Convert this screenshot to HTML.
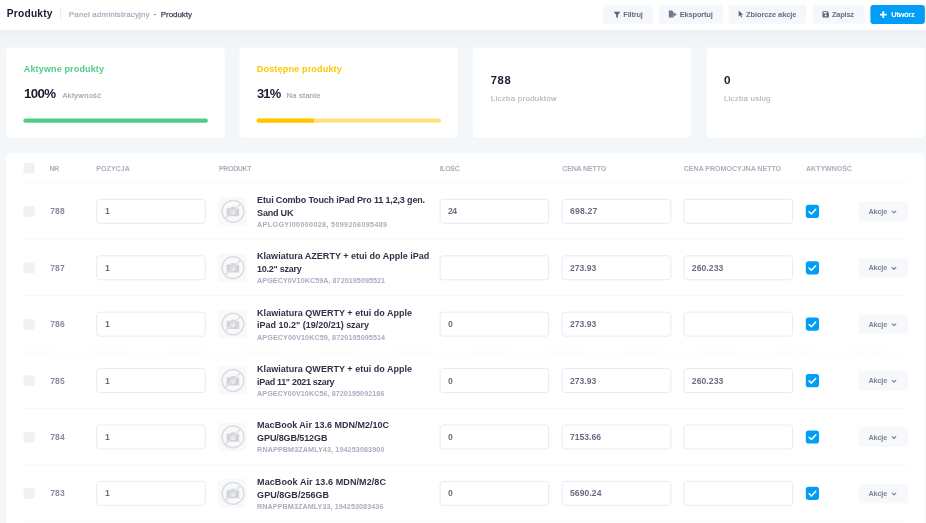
<!DOCTYPE html>
<html lang="pl"><head><meta charset="utf-8"><title>Produkty</title><style>
*{box-sizing:border-box;margin:0;padding:0}
html,body{width:926px;height:523px;overflow:hidden}
body{background:#f4f7fa;font-family:"Liberation Sans",sans-serif;color:#181c32;position:relative}
.t{position:absolute;white-space:pre;line-height:1;display:block}
svg.bg{position:absolute;left:0;top:0;display:block}
.card{fill:#fff}
.cb{fill:#eff2f5}
.dl{stroke:#eef0f4;stroke-width:1;stroke-dasharray:1.900 1.900;fill:none}
.inp{fill:#fff;stroke:#e6e8f0;stroke-width:.9}
.btn{fill:#f5f8fa}
.ic{fill:#5e6278}

</style></head><body>
<svg class="bg" width="926" height="523" viewBox="0 0 926 523">
<defs><linearGradient id="sh" x1="0" y1="0" x2="0" y2="1"><stop offset="0" stop-color="#523f69" stop-opacity=".045"/><stop offset=".35" stop-color="#523f69" stop-opacity=".022"/><stop offset="1" stop-color="#523f69" stop-opacity="0"/></linearGradient></defs>
<rect x="0" y="29.700" width="926" height="20" fill="url(#sh)"/>
<rect x="0" y="0" width="926" height="29.800" fill="#fff"/>
<rect x="60.100" y="8.300" width="1" height="11.300" fill="#eaecf2"/>
<rect class="btn" x="603" y="4.800" width="50" height="19" rx="3"/>
<path class="ic" transform="translate(613.400 11.300) scale(.9)" d="M.3.600h7.400L4.900 4v3.600L3.100 6.300V4z"/>
<rect class="btn" x="658.800" y="4.800" width="64.200" height="19" rx="3"/>
<g fill="#74788f" transform="translate(668.400 10.200) scale(.944)"><path d="M.4.300h3.400l1.700 1.700v5.700H.400z"/><path d="M6 2.400L8.800 4.500 6 6.600z"/><rect x="3.400" y="3.900" width="3" height="1.200"/></g>
<rect class="btn" x="728.400" y="4.800" width="77.900" height="19" rx="3"/>
<path class="ic" transform="translate(738.200 10.400) scale(.9)" d="M.5.200v6.600l1.700-1.500 1.100 2.500 1.100-.5-1.100-2.400h2.200z"/>
<rect class="btn" x="813" y="4.800" width="51.400" height="19" rx="3"/>
<g transform="translate(822.200 10.900) scale(.8625)"><path class="ic" d="M.3 1.300c0-.6.400-1 1-1h4.600l1.800 1.800v4.600c0 .6-.4 1-1 1H1.300c-.6 0-1-.4-1-1z"/><rect x="1.600" y="1.400" width="3.800" height="1.700" fill="#f5f8fa"/><circle cx="4" cy="5.300" r="1.200" fill="#f5f8fa"/></g>
<rect x="870.400" y="4.900" width="54.500" height="19.100" rx="3" fill="#009ef7"/>
<path transform="translate(879.700 11) scale(.9)" d="M4 .3v7.400M.3 4h7.400" stroke="#fff" stroke-width="2" fill="none"/>
<rect class="card" x="6.400" y="47.800" width="218.300" height="89.800" rx="4"/><rect class="card" x="239.500" y="47.800" width="218.300" height="89.800" rx="4"/><rect class="card" x="472.700" y="47.800" width="218.300" height="89.800" rx="4"/><rect class="card" x="706.500" y="47.800" width="218.200" height="89.800" rx="4"/>
<rect x="23.300" y="118.600" width="184.600" height="4.200" rx="2.100" fill="#50cd89"/>
<rect x="256.600" y="118.600" width="184.600" height="4.200" rx="2.100" fill="#ffe27c"/>
<path d="M258.700 118.600h55.200v4.200h-55.200a2.100 2.100 0 0 1 0-4.200z" fill="#ffc700"/>
<rect class="card" x="6.400" y="152.800" width="918.200" height="380" rx="5"/>
<rect class="cb" x="23.500" y="162.700" width="11.200" height="10.800" rx="2.600"/>

<path class="dl" d="M23.5 182.80H908.3"/>
<rect class="cb" x="23.5" y="206.10" width="11.2" height="10.8" rx="2.600"/>
<rect class="inp" x="96.70" y="199.40" width="108.600" height="24" rx="2.900"/>
<rect class="inp" x="440.10" y="199.40" width="108.600" height="24" rx="2.900"/>
<rect class="inp" x="562.20" y="199.40" width="108.600" height="24" rx="2.900"/>
<rect class="inp" x="684.00" y="199.40" width="108.600" height="24" rx="2.900"/>
<g transform="translate(218.2 197.10)"><rect width="28.400" height="28.300" rx="3" fill="#f8f9fb"/><circle cx="14.800" cy="14.200" r="10.900" fill="none" stroke="#dcdde2" stroke-width="1.500"/><path d="M8.400 11.500h1v-.9h1.800v.9h1l1-1.900h3.600l1 1.900h3.200v7.600H8.400z" fill="#d3d4da"/><circle cx="14.700" cy="15.200" r="2.400" fill="#eceef2"/><path d="M6.900 21.900L22.300 6.500" stroke="#f8f9fb" stroke-width="2" opacity=".5"/><path d="M6.900 21.900L22.300 6.500" stroke="#d7d8de" stroke-width="1.200"/></g>
<g transform="translate(805.8 204.80)"><rect width="13.200" height="13.200" rx="2.800" fill="#009ef7"/><path d="M3.300 6.900l2.300 2.200 4.300-4.600" fill="none" stroke="#fff" stroke-width="1.500" stroke-linecap="round" stroke-linejoin="round"/></g>
<rect x="858.8" y="201.70" width="49.200" height="19.500" rx="3" fill="#f6f8fb"/>
<path d="M892.2 211.10l1.800 1.800 1.800-1.800" fill="none" stroke="#7e8299" stroke-width="1.200" stroke-linecap="round" stroke-linejoin="round"/>
<path class="dl" d="M23.5 239.20H908.3"/>
<rect class="cb" x="23.5" y="262.50" width="11.2" height="10.8" rx="2.600"/>
<rect class="inp" x="96.70" y="255.80" width="108.600" height="24" rx="2.900"/>
<rect class="inp" x="440.10" y="255.80" width="108.600" height="24" rx="2.900"/>
<rect class="inp" x="562.20" y="255.80" width="108.600" height="24" rx="2.900"/>
<rect class="inp" x="684.00" y="255.80" width="108.600" height="24" rx="2.900"/>
<g transform="translate(218.2 253.50)"><rect width="28.400" height="28.300" rx="3" fill="#f8f9fb"/><circle cx="14.800" cy="14.200" r="10.900" fill="none" stroke="#dcdde2" stroke-width="1.500"/><path d="M8.400 11.500h1v-.9h1.800v.9h1l1-1.900h3.600l1 1.900h3.200v7.600H8.400z" fill="#d3d4da"/><circle cx="14.700" cy="15.200" r="2.400" fill="#eceef2"/><path d="M6.900 21.900L22.300 6.500" stroke="#f8f9fb" stroke-width="2" opacity=".5"/><path d="M6.900 21.900L22.300 6.500" stroke="#d7d8de" stroke-width="1.200"/></g>
<g transform="translate(805.8 261.20)"><rect width="13.200" height="13.200" rx="2.800" fill="#009ef7"/><path d="M3.300 6.900l2.300 2.200 4.300-4.600" fill="none" stroke="#fff" stroke-width="1.500" stroke-linecap="round" stroke-linejoin="round"/></g>
<rect x="858.8" y="258.10" width="49.200" height="19.500" rx="3" fill="#f6f8fb"/>
<path d="M892.2 267.50l1.800 1.800 1.800-1.800" fill="none" stroke="#7e8299" stroke-width="1.200" stroke-linecap="round" stroke-linejoin="round"/>
<path class="dl" d="M23.5 295.60H908.3"/>
<rect class="cb" x="23.5" y="318.90" width="11.2" height="10.8" rx="2.600"/>
<rect class="inp" x="96.70" y="312.20" width="108.600" height="24" rx="2.900"/>
<rect class="inp" x="440.10" y="312.20" width="108.600" height="24" rx="2.900"/>
<rect class="inp" x="562.20" y="312.20" width="108.600" height="24" rx="2.900"/>
<rect class="inp" x="684.00" y="312.20" width="108.600" height="24" rx="2.900"/>
<g transform="translate(218.2 309.90)"><rect width="28.400" height="28.300" rx="3" fill="#f8f9fb"/><circle cx="14.800" cy="14.200" r="10.900" fill="none" stroke="#dcdde2" stroke-width="1.500"/><path d="M8.400 11.500h1v-.9h1.800v.9h1l1-1.900h3.600l1 1.900h3.200v7.600H8.400z" fill="#d3d4da"/><circle cx="14.700" cy="15.200" r="2.400" fill="#eceef2"/><path d="M6.900 21.900L22.300 6.500" stroke="#f8f9fb" stroke-width="2" opacity=".5"/><path d="M6.900 21.900L22.300 6.500" stroke="#d7d8de" stroke-width="1.200"/></g>
<g transform="translate(805.8 317.60)"><rect width="13.200" height="13.200" rx="2.800" fill="#009ef7"/><path d="M3.300 6.900l2.300 2.200 4.300-4.600" fill="none" stroke="#fff" stroke-width="1.500" stroke-linecap="round" stroke-linejoin="round"/></g>
<rect x="858.8" y="314.50" width="49.200" height="19.500" rx="3" fill="#f6f8fb"/>
<path d="M892.2 323.90l1.800 1.800 1.800-1.800" fill="none" stroke="#7e8299" stroke-width="1.200" stroke-linecap="round" stroke-linejoin="round"/>
<path class="dl" d="M23.5 352.00H908.3"/>
<rect class="cb" x="23.5" y="375.30" width="11.2" height="10.8" rx="2.600"/>
<rect class="inp" x="96.70" y="368.60" width="108.600" height="24" rx="2.900"/>
<rect class="inp" x="440.10" y="368.60" width="108.600" height="24" rx="2.900"/>
<rect class="inp" x="562.20" y="368.60" width="108.600" height="24" rx="2.900"/>
<rect class="inp" x="684.00" y="368.60" width="108.600" height="24" rx="2.900"/>
<g transform="translate(218.2 366.30)"><rect width="28.400" height="28.300" rx="3" fill="#f8f9fb"/><circle cx="14.800" cy="14.200" r="10.900" fill="none" stroke="#dcdde2" stroke-width="1.500"/><path d="M8.400 11.500h1v-.9h1.800v.9h1l1-1.900h3.600l1 1.900h3.200v7.600H8.400z" fill="#d3d4da"/><circle cx="14.700" cy="15.200" r="2.400" fill="#eceef2"/><path d="M6.900 21.900L22.300 6.500" stroke="#f8f9fb" stroke-width="2" opacity=".5"/><path d="M6.900 21.900L22.300 6.500" stroke="#d7d8de" stroke-width="1.200"/></g>
<g transform="translate(805.8 374.00)"><rect width="13.200" height="13.200" rx="2.800" fill="#009ef7"/><path d="M3.300 6.900l2.300 2.200 4.300-4.600" fill="none" stroke="#fff" stroke-width="1.500" stroke-linecap="round" stroke-linejoin="round"/></g>
<rect x="858.8" y="370.90" width="49.200" height="19.500" rx="3" fill="#f6f8fb"/>
<path d="M892.2 380.30l1.800 1.800 1.800-1.800" fill="none" stroke="#7e8299" stroke-width="1.200" stroke-linecap="round" stroke-linejoin="round"/>
<path class="dl" d="M23.5 408.40H908.3"/>
<rect class="cb" x="23.5" y="431.70" width="11.2" height="10.8" rx="2.600"/>
<rect class="inp" x="96.70" y="425.00" width="108.600" height="24" rx="2.900"/>
<rect class="inp" x="440.10" y="425.00" width="108.600" height="24" rx="2.900"/>
<rect class="inp" x="562.20" y="425.00" width="108.600" height="24" rx="2.900"/>
<rect class="inp" x="684.00" y="425.00" width="108.600" height="24" rx="2.900"/>
<g transform="translate(218.2 422.70)"><rect width="28.400" height="28.300" rx="3" fill="#f8f9fb"/><circle cx="14.800" cy="14.200" r="10.900" fill="none" stroke="#dcdde2" stroke-width="1.500"/><path d="M8.400 11.500h1v-.9h1.800v.9h1l1-1.900h3.600l1 1.900h3.200v7.600H8.400z" fill="#d3d4da"/><circle cx="14.700" cy="15.200" r="2.400" fill="#eceef2"/><path d="M6.900 21.900L22.300 6.500" stroke="#f8f9fb" stroke-width="2" opacity=".5"/><path d="M6.900 21.900L22.300 6.500" stroke="#d7d8de" stroke-width="1.200"/></g>
<g transform="translate(805.8 430.40)"><rect width="13.200" height="13.200" rx="2.800" fill="#009ef7"/><path d="M3.300 6.900l2.300 2.200 4.300-4.600" fill="none" stroke="#fff" stroke-width="1.500" stroke-linecap="round" stroke-linejoin="round"/></g>
<rect x="858.8" y="427.30" width="49.200" height="19.500" rx="3" fill="#f6f8fb"/>
<path d="M892.2 436.70l1.800 1.800 1.800-1.800" fill="none" stroke="#7e8299" stroke-width="1.200" stroke-linecap="round" stroke-linejoin="round"/>
<path class="dl" d="M23.5 464.80H908.3"/>
<rect class="cb" x="23.5" y="488.10" width="11.2" height="10.8" rx="2.600"/>
<rect class="inp" x="96.70" y="481.40" width="108.600" height="24" rx="2.900"/>
<rect class="inp" x="440.10" y="481.40" width="108.600" height="24" rx="2.900"/>
<rect class="inp" x="562.20" y="481.40" width="108.600" height="24" rx="2.900"/>
<rect class="inp" x="684.00" y="481.40" width="108.600" height="24" rx="2.900"/>
<g transform="translate(218.2 479.10)"><rect width="28.400" height="28.300" rx="3" fill="#f8f9fb"/><circle cx="14.800" cy="14.200" r="10.900" fill="none" stroke="#dcdde2" stroke-width="1.500"/><path d="M8.400 11.500h1v-.9h1.800v.9h1l1-1.900h3.600l1 1.900h3.200v7.600H8.400z" fill="#d3d4da"/><circle cx="14.700" cy="15.200" r="2.400" fill="#eceef2"/><path d="M6.900 21.900L22.300 6.500" stroke="#f8f9fb" stroke-width="2" opacity=".5"/><path d="M6.900 21.900L22.300 6.500" stroke="#d7d8de" stroke-width="1.200"/></g>
<g transform="translate(805.8 486.80)"><rect width="13.200" height="13.200" rx="2.800" fill="#009ef7"/><path d="M3.300 6.900l2.300 2.200 4.300-4.600" fill="none" stroke="#fff" stroke-width="1.500" stroke-linecap="round" stroke-linejoin="round"/></g>
<rect x="858.8" y="483.70" width="49.200" height="19.500" rx="3" fill="#f6f8fb"/>
<path d="M892.2 493.10l1.800 1.800 1.800-1.800" fill="none" stroke="#7e8299" stroke-width="1.200" stroke-linecap="round" stroke-linejoin="round"/>
<path class="dl" d="M23.5 521.20H908.3"/>
</svg>
<span class="t" style="left:6.80px;top:9.00px;font-size:10.2px;color:#181c32;font-weight:bold;letter-spacing:0.221px;">Produkty</span>
<span class="t" style="left:68.80px;top:11.00px;font-size:8.0px;color:#a1a5b7;letter-spacing:0.149px;-webkit-text-stroke:0.15px #a1a5b7;">Panel administracyjny</span>
<span class="t" style="left:153.40px;top:10.00px;font-size:8.4px;color:#8d91a6;font-weight:bold;">-</span>
<span class="t" style="left:160.80px;top:11.00px;font-size:8.0px;color:#3f4254;letter-spacing:-0.054px;-webkit-text-stroke:0.25px #3f4254;">Produkty</span>
<span class="t" style="left:623.30px;top:11.00px;font-size:7.5px;color:#696d85;font-weight:bold;letter-spacing:-0.207px;">Filtruj</span>
<span class="t" style="left:679.80px;top:11.00px;font-size:7.5px;color:#696d85;font-weight:bold;letter-spacing:-0.199px;">Eksportuj</span>
<span class="t" style="left:745.90px;top:11.00px;font-size:7.5px;color:#696d85;font-weight:bold;letter-spacing:-0.085px;">Zbiorcze akcje</span>
<span class="t" style="left:832.00px;top:11.00px;font-size:7.5px;color:#696d85;font-weight:bold;letter-spacing:-0.249px;">Zapisz</span>
<span class="t" style="left:891.30px;top:11.00px;font-size:7.6px;color:#ffffff;font-weight:bold;letter-spacing:-0.383px;">Utwórz</span>
<span class="t" style="left:23.80px;top:65.00px;font-size:9.0px;color:#50cd89;font-weight:bold;letter-spacing:0.146px;">Aktywne produkty</span>
<span class="t" style="left:24.00px;top:87.00px;font-size:13.3px;color:#181c32;font-weight:bold;letter-spacing:-0.672px;">100%</span>
<span class="t" style="left:62.50px;top:92.00px;font-size:7.6px;color:#a1a5b7;letter-spacing:0.275px;-webkit-text-stroke:0.2px #a1a5b7;">Aktywność</span>
<span class="t" style="left:256.80px;top:65.00px;font-size:9.0px;color:#ffc700;font-weight:bold;letter-spacing:0.187px;">Dostępne produkty</span>
<span class="t" style="left:257.00px;top:88.00px;font-size:12.9px;color:#181c32;font-weight:bold;letter-spacing:-0.806px;">31%</span>
<span class="t" style="left:286.50px;top:92.00px;font-size:7.6px;color:#a1a5b7;letter-spacing:0.238px;-webkit-text-stroke:0.2px #a1a5b7;">Na stanie</span>
<span class="t" style="left:490.70px;top:75.00px;font-size:11.2px;color:#181c32;font-weight:bold;letter-spacing:0.664px;">788</span>
<span class="t" style="left:490.70px;top:95.00px;font-size:7.9px;color:#b5b5c3;letter-spacing:0.305px;-webkit-text-stroke:0.15px #b5b5c3;">Liczba produktów</span>
<span class="t" style="left:724.00px;top:75.00px;font-size:11.8px;color:#181c32;font-weight:bold;">0</span>
<span class="t" style="left:724.00px;top:95.00px;font-size:7.9px;color:#b5b5c3;letter-spacing:0.230px;-webkit-text-stroke:0.15px #b5b5c3;">Liczba usług</span>
<span class="t" style="left:49.60px;top:166.00px;font-size:7.1px;color:#adaebd;font-weight:bold;letter-spacing:-0.650px;">NR</span>
<span class="t" style="left:96.30px;top:166.00px;font-size:7.1px;color:#adaebd;font-weight:bold;">POZYCJA</span>
<span class="t" style="left:219.00px;top:166.00px;font-size:7.1px;color:#adaebd;font-weight:bold;letter-spacing:-0.413px;">PRODUKT</span>
<span class="t" style="left:439.80px;top:166.00px;font-size:7.1px;color:#adaebd;font-weight:bold;letter-spacing:-0.422px;">ILOŚĆ</span>
<span class="t" style="left:562.20px;top:166.00px;font-size:7.1px;color:#adaebd;font-weight:bold;letter-spacing:-0.180px;">CENA NETTO</span>
<span class="t" style="left:683.80px;top:166.00px;font-size:7.1px;color:#adaebd;font-weight:bold;letter-spacing:-0.049px;">CENA PROMOCYJNA NETTO</span>
<span class="t" style="left:806.00px;top:166.00px;font-size:7.1px;color:#adaebd;font-weight:bold;letter-spacing:-0.064px;">AKTYWNOŚĆ</span>
<span class="t" style="left:50.20px;top:207.00px;font-size:8.5px;color:#878ba1;font-weight:bold;letter-spacing:0.156px;">788</span>
<span class="t" style="left:104.90px;top:207.00px;font-size:8.6px;color:#6a6e85;font-weight:bold;">1</span>
<span class="t" style="left:447.90px;top:207.00px;font-size:8.6px;color:#6a6e85;font-weight:bold;letter-spacing:-0.363px;">24</span>
<span class="t" style="left:570.00px;top:207.00px;font-size:8.6px;color:#6a6e85;font-weight:bold;letter-spacing:0.181px;">698.27</span>
<span class="t" style="left:257.10px;top:196.00px;font-size:9.0px;color:#2f3247;font-weight:bold;letter-spacing:-0.155px;">Etui Combo Touch iPad Pro 11 1,2,3 gen.</span>
<span class="t" style="left:257.10px;top:209.00px;font-size:9.0px;color:#2f3247;font-weight:bold;letter-spacing:-0.203px;">Sand UK</span>
<span class="t" style="left:257.10px;top:221.00px;font-size:7.2px;color:#a9adbe;font-weight:bold;letter-spacing:0.335px;">APLOGYI00000028, 5099206095489</span>
<span class="t" style="left:868.40px;top:208.00px;font-size:7.3px;color:#7e8299;font-weight:bold;letter-spacing:-0.146px;">Akcje</span>
<span class="t" style="left:50.20px;top:264.00px;font-size:8.5px;color:#878ba1;font-weight:bold;letter-spacing:0.156px;">787</span>
<span class="t" style="left:104.90px;top:264.00px;font-size:8.6px;color:#6a6e85;font-weight:bold;">1</span>
<span class="t" style="left:570.00px;top:264.00px;font-size:8.6px;color:#6a6e85;font-weight:bold;">273.93</span>
<span class="t" style="left:691.80px;top:264.00px;font-size:8.6px;color:#6a6e85;font-weight:bold;letter-spacing:0.070px;">260.233</span>
<span class="t" style="left:257.10px;top:252.00px;font-size:9.0px;color:#2f3247;font-weight:bold;letter-spacing:0.007px;">Klawiatura AZERTY + etui do Apple iPad</span>
<span class="t" style="left:257.10px;top:265.00px;font-size:9.0px;color:#2f3247;font-weight:bold;letter-spacing:-0.261px;">10.2" szary</span>
<span class="t" style="left:257.10px;top:277.00px;font-size:7.2px;color:#a9adbe;font-weight:bold;letter-spacing:0.046px;">APGECY0V10KC59A, 8720195095521</span>
<span class="t" style="left:868.40px;top:264.00px;font-size:7.3px;color:#7e8299;font-weight:bold;letter-spacing:-0.146px;">Akcje</span>
<span class="t" style="left:50.20px;top:320.00px;font-size:8.5px;color:#878ba1;font-weight:bold;letter-spacing:0.156px;">786</span>
<span class="t" style="left:104.90px;top:320.00px;font-size:8.6px;color:#6a6e85;font-weight:bold;">1</span>
<span class="t" style="left:447.90px;top:320.00px;font-size:8.6px;color:#6a6e85;font-weight:bold;">0</span>
<span class="t" style="left:570.00px;top:320.00px;font-size:8.6px;color:#6a6e85;font-weight:bold;">273.93</span>
<span class="t" style="left:257.10px;top:309.00px;font-size:9.0px;color:#2f3247;font-weight:bold;letter-spacing:0.022px;">Klawiatura QWERTY + etui do Apple</span>
<span class="t" style="left:257.10px;top:321.00px;font-size:9.0px;color:#2f3247;font-weight:bold;letter-spacing:-0.013px;">iPad 10.2" (19/20/21) szary</span>
<span class="t" style="left:257.10px;top:334.00px;font-size:7.2px;color:#a9adbe;font-weight:bold;letter-spacing:0.087px;">APGECY00V10KC59, 8720195095514</span>
<span class="t" style="left:868.40px;top:321.00px;font-size:7.3px;color:#7e8299;font-weight:bold;letter-spacing:-0.146px;">Akcje</span>
<span class="t" style="left:50.20px;top:377.00px;font-size:8.5px;color:#878ba1;font-weight:bold;letter-spacing:0.156px;">785</span>
<span class="t" style="left:104.90px;top:377.00px;font-size:8.6px;color:#6a6e85;font-weight:bold;">1</span>
<span class="t" style="left:447.90px;top:377.00px;font-size:8.6px;color:#6a6e85;font-weight:bold;">0</span>
<span class="t" style="left:570.00px;top:377.00px;font-size:8.6px;color:#6a6e85;font-weight:bold;">273.93</span>
<span class="t" style="left:691.80px;top:377.00px;font-size:8.6px;color:#6a6e85;font-weight:bold;letter-spacing:0.070px;">260.233</span>
<span class="t" style="left:257.10px;top:365.00px;font-size:9.0px;color:#2f3247;font-weight:bold;letter-spacing:0.022px;">Klawiatura QWERTY + etui do Apple</span>
<span class="t" style="left:257.10px;top:378.00px;font-size:9.0px;color:#2f3247;font-weight:bold;letter-spacing:-0.325px;">iPad 11" 2021 szary</span>
<span class="t" style="left:257.10px;top:390.00px;font-size:7.2px;color:#a9adbe;font-weight:bold;letter-spacing:0.063px;">APGECY00V10KC56, 8720195092186</span>
<span class="t" style="left:868.40px;top:377.00px;font-size:7.3px;color:#7e8299;font-weight:bold;letter-spacing:-0.146px;">Akcje</span>
<span class="t" style="left:50.20px;top:433.00px;font-size:8.5px;color:#878ba1;font-weight:bold;letter-spacing:0.156px;">784</span>
<span class="t" style="left:104.90px;top:433.00px;font-size:8.6px;color:#6a6e85;font-weight:bold;">1</span>
<span class="t" style="left:447.90px;top:433.00px;font-size:8.6px;color:#6a6e85;font-weight:bold;">0</span>
<span class="t" style="left:570.00px;top:433.00px;font-size:8.6px;color:#6a6e85;font-weight:bold;letter-spacing:-0.013px;">7153.66</span>
<span class="t" style="left:257.10px;top:421.00px;font-size:9.0px;color:#2f3247;font-weight:bold;letter-spacing:0.011px;">MacBook Air 13.6 MDN/M2/10C</span>
<span class="t" style="left:257.10px;top:434.00px;font-size:9.0px;color:#2f3247;font-weight:bold;letter-spacing:-0.103px;">GPU/8GB/512GB</span>
<span class="t" style="left:257.10px;top:446.00px;font-size:7.2px;color:#a9adbe;font-weight:bold;letter-spacing:0.104px;">RNAPPBM3ZAMLY43, 194253083900</span>
<span class="t" style="left:868.40px;top:434.00px;font-size:7.3px;color:#7e8299;font-weight:bold;letter-spacing:-0.146px;">Akcje</span>
<span class="t" style="left:50.20px;top:489.00px;font-size:8.5px;color:#878ba1;font-weight:bold;letter-spacing:0.156px;">783</span>
<span class="t" style="left:104.90px;top:489.00px;font-size:8.6px;color:#6a6e85;font-weight:bold;">1</span>
<span class="t" style="left:447.90px;top:489.00px;font-size:8.6px;color:#6a6e85;font-weight:bold;">0</span>
<span class="t" style="left:570.00px;top:489.00px;font-size:8.6px;color:#6a6e85;font-weight:bold;letter-spacing:0.070px;">5690.24</span>
<span class="t" style="left:257.10px;top:478.00px;font-size:9.0px;color:#2f3247;font-weight:bold;letter-spacing:0.084px;">MacBook Air 13.6 MDN/M2/8C</span>
<span class="t" style="left:257.10px;top:491.00px;font-size:9.0px;color:#2f3247;font-weight:bold;letter-spacing:0.039px;">GPU/8GB/256GB</span>
<span class="t" style="left:257.10px;top:503.00px;font-size:7.2px;color:#a9adbe;font-weight:bold;letter-spacing:0.068px;">RNAPPBM3ZAMLY33, 194253083436</span>
<span class="t" style="left:868.40px;top:490.00px;font-size:7.3px;color:#7e8299;font-weight:bold;letter-spacing:-0.146px;">Akcje</span>
</body></html>
